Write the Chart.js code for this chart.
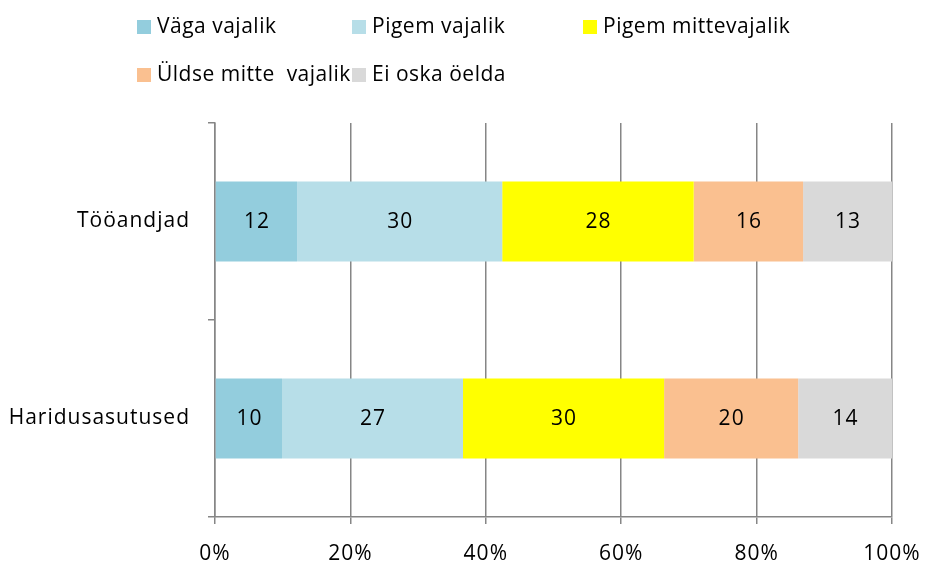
<!DOCTYPE html>
<html>
<head>
<meta charset="utf-8">
<script src="https://cdn.jsdelivr.net/npm/chart.js@4"></script>
<style>
  html, body { margin: 0; padding: 0; background: #fff; }
  #wrap { position: relative; width: 926px; height: 565px; }
  canvas { position: absolute; left: 0; top: 0; }
  .lg { position: absolute; font-family: "Open Sans", sans-serif; font-size: 21px; letter-spacing: 0.5px; color: #000; white-space: pre; line-height: 26px; }
  .lg span.box { display: inline-block; width: 14px; height: 14px; margin-right: 6px; vertical-align: -1px; }
</style>
</head>
<body>
<div id="wrap">
  <canvas id="c" width="926" height="565"></canvas>
</div>
<script>
const categories = ["Tööandjad", "Haridusasutused"];
const seriesNames = ["Väga vajalik", "Pigem vajalik", "Pigem mittevajalik", "Üldse mitte  vajalik", "Ei oska öelda"];
const vagaVajalik = [12, 10];
const pigemVajalik = [30, 27];
const pigemMittevajalik = [28, 30];
const uldseMitteVajalik = [16, 20];
const eiOskaOelda = [13, 14];
const xTicks = [0, 20, 40, 60, 80, 100];
const colors = ["#93CDDD", "#B7DEE8", "#FFFF00", "#FAC090", "#D9D9D9"];

const seriesValues = [vagaVajalik, pigemVajalik, pigemMittevajalik, uldseMitteVajalik, eiOskaOelda];
const totals = categories.map((_, i) => seriesValues.reduce((s, arr) => s + arr[i], 0));

const FONT = '"Open Sans", sans-serif';

// HTML legend
const legendPos = [[137, 12], [352, 12], [583, 12], [137, 60], [352, 60]];
const wrap = document.getElementById('wrap');
seriesNames.forEach((name, i) => {
  const d = document.createElement('div');
  d.className = 'lg';
  d.style.left = legendPos[i][0] + 'px';
  d.style.top = legendPos[i][1] + 'px';
  const b = document.createElement('span');
  b.className = 'box';
  b.style.background = colors[i];
  d.appendChild(b);
  d.appendChild(document.createTextNode(name));
  wrap.appendChild(d);
});

const spacing = {
  id: 'spacing',
  beforeDraw(chart) { chart.ctx.letterSpacing = '1px'; }
};

const valueLabels = {
  id: 'valueLabels',
  afterDatasetsDraw(chart) {
    const ctx = chart.ctx;
    ctx.save();
    ctx.font = '21px ' + FONT;
    ctx.letterSpacing = '1px';
    ctx.fillStyle = '#000';
    ctx.textAlign = 'center';
    ctx.textBaseline = 'middle';
    chart.data.datasets.forEach((ds, di) => {
      const meta = chart.getDatasetMeta(di);
      meta.data.forEach((bar, i) => {
        const x = (bar.x + bar.base) / 2;
        ctx.fillText(String(seriesValues[di][i]), x + 0.5, bar.y + 1);
      });
    });
    ctx.restore();
  }
};

new Chart(document.getElementById('c'), {
  type: 'bar',
  data: {
    labels: categories,
    datasets: seriesNames.map((name, si) => ({
      label: name,
      data: seriesValues[si].map((v, i) => v / totals[i] * 100),
      backgroundColor: colors[si],
      borderWidth: 0,
      categoryPercentage: 1,
      barPercentage: 0.406
    }))
  },
  options: {
    indexAxis: 'y',
    responsive: false,
    animation: false,
    layout: { padding: { top: 123, right: 34, left: 0, bottom: 0 } },
    plugins: { legend: { display: false }, tooltip: { enabled: false } },
    scales: {
      x: {
        stacked: true,
        min: 0, max: 100,
        afterBuildTicks(axis) { axis.ticks = xTicks.map(v => ({ value: v })); },
        afterFit(axis) { axis.height = 48; axis.paddingRight = 0; axis.paddingLeft = 0; },
        ticks: {
          callback: v => v + '%',
          font: { family: FONT, size: 21 },
          color: '#000',
          padding: 17
        },
        grid: { color: '#868686', lineWidth: 1.5, tickLength: 7, drawTicks: true },
        border: { color: '#868686', width: 1.5 }
      },
      y: {
        stacked: true,
        afterFit(axis) { axis.width = 215; },
        ticks: {
          font: { family: FONT, size: 21 },
          color: '#000',
          padding: 18
        },
        grid: { offset: true, drawOnChartArea: false, drawTicks: true, tickLength: 7, color: '#868686', lineWidth: 1.5 },
        border: { color: '#868686', width: 1.5 }
      }
    }
  },
  plugins: [spacing, valueLabels]
});
</script>
</body>
</html>
